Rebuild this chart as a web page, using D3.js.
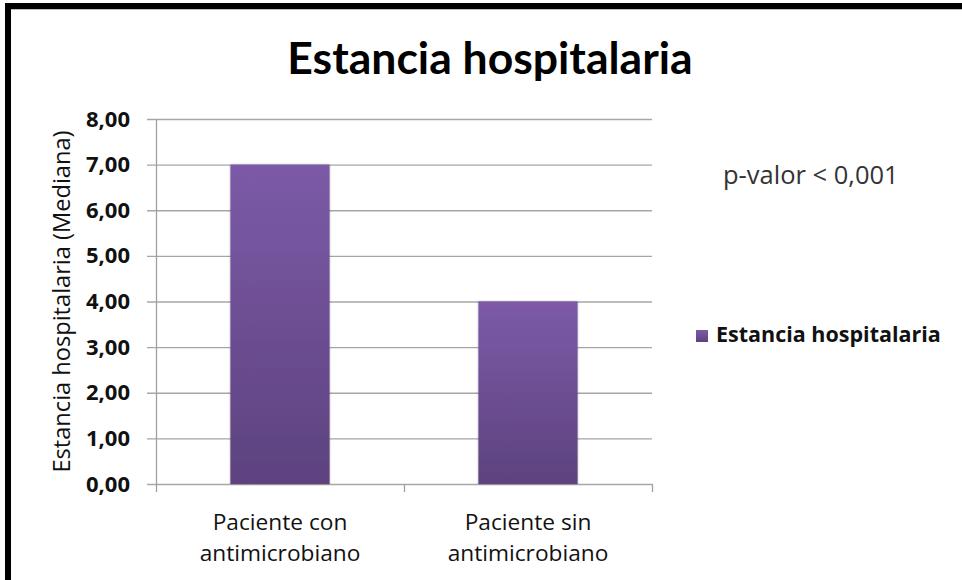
<!DOCTYPE html>
<html>
<head>
<meta charset="utf-8">
<script src="https://cdn.jsdelivr.net/npm/d3@7/dist/d3.min.js"></script>
<style>
  body { margin: 0; background: #fff; }
  svg { display: block; font-family: "Open Sans", Lato, sans-serif; }
</style>
</head>
<body>
<svg id="chart" width="962" height="580"></svg>
<script>
// data
const categories = [["Paciente con", "antimicrobiano"], ["Paciente sin", "antimicrobiano"]];
const values = [7, 4];
const yTicks = [0, 1, 2, 3, 4, 5, 6, 7, 8];
const seriesName = "Estancia hospitalaria";

const svg = d3.select("#chart");

// frame: thick black on top and left
svg.append("rect").attr("x", 5).attr("y", 3).attr("width", 957).attr("height", 6).attr("fill", "#000");
svg.append("rect").attr("x", 5).attr("y", 3).attr("width", 6).attr("height", 577).attr("fill", "#000");
svg.append("line").attr("x1", 11).attr("x2", 962).attr("y1", 9.5).attr("y2", 9.5).attr("stroke", "#bbb");

const x = d3.scaleBand().domain(d3.range(categories.length)).range([156, 652]);
const y = d3.scaleLinear().domain([0, 8]).range([484, 119]);

// gradient for bars
const defs = svg.append("defs");
const grad = defs.append("linearGradient").attr("id", "barGrad")
    .attr("x1", 0).attr("y1", 0).attr("x2", 0).attr("y2", 1);
grad.append("stop").attr("offset", "0%").attr("stop-color", "#7c5aa7");
grad.append("stop").attr("offset", "100%").attr("stop-color", "#5d427f");
const shadow = defs.append("filter").attr("id", "shadow").attr("x", "-10%").attr("y", "-5%").attr("width", "120%").attr("height", "110%");
shadow.append("feDropShadow").attr("dx", 0).attr("dy", 0).attr("stdDeviation", 1.2).attr("flood-color", "#000").attr("flood-opacity", 0.3);

// gridlines
svg.append("g").selectAll("line").data(yTicks).enter().append("line")
    .attr("x1", 147).attr("x2", 652)
    .attr("y1", d => y(d) + 0.5).attr("y2", d => y(d) + 0.5)
    .attr("stroke", "#a6a6a6").attr("stroke-width", 1.3);

// y axis line
svg.append("line").attr("x1", 156.5).attr("x2", 156.5).attr("y1", y(8)).attr("y2", 492)
    .attr("stroke", "#a0a0a0").attr("stroke-width", 1.3);

// x axis ticks
svg.append("g").selectAll("line").data(d3.range(categories.length)).enter().append("line")
    .attr("x1", d => x(d) + x.bandwidth() + 0.5).attr("x2", d => x(d) + x.bandwidth() + 0.5)
    .attr("y1", y(0)).attr("y2", 492)
    .attr("stroke", "#a0a0a0").attr("stroke-width", 1.3);

// bars
const barW = x.bandwidth() * 0.4;
svg.append("g").selectAll("rect").data(values).enter().append("rect")
    .attr("x", (d, i) => x(i) + (x.bandwidth() - barW) / 2)
    .attr("y", d => y(d))
    .attr("width", barW)
    .attr("height", d => y(0) - y(d))
    .attr("fill", "url(#barGrad)")
    .attr("filter", "url(#shadow)");

// y tick labels
svg.append("g").selectAll("text").data(yTicks).enter().append("text")
    .attr("x", 130).attr("y", d => y(d) + 7.5)
    .attr("text-anchor", "end")
    .attr("font-size", 22).attr("font-weight", "bold").attr("fill", "#111")
    .text(d => d3.format(".2f")(d).replace(".", ","));

// x category labels
const xl = svg.append("g").selectAll("text").data(categories).enter().append("text")
    .attr("text-anchor", "middle")
    .attr("font-size", 22.7).attr("fill", "#111");
xl.append("tspan").attr("x", (d, i) => x(i) + x.bandwidth() / 2).attr("y", 530).text(d => d[0]);
xl.append("tspan").attr("x", (d, i) => x(i) + x.bandwidth() / 2).attr("y", 561).text(d => d[1]);

// y axis title
svg.append("text")
    .attr("transform", "translate(70," + (y(4)) + ") rotate(-90)")
    .attr("text-anchor", "middle")
    .attr("font-size", 23.6).attr("fill", "#111")
    .text("Estancia hospitalaria (Mediana)");

// title
svg.append("text")
    .attr("x", 490).attr("y", 74)
    .attr("text-anchor", "middle")
    .attr("font-family", "Lato, sans-serif")
    .attr("font-size", 44.5).attr("font-weight", "bold").attr("fill", "#000")
    .text("Estancia hospitalaria");

// annotation
svg.append("text")
    .attr("x", 723).attr("y", 184)
    .attr("font-size", 25.5).attr("fill", "#333")
    .text("p-valor < 0,001");

// legend
const lg = svg.append("g").attr("transform", "translate(696,330)");
lg.append("rect").attr("width", 12).attr("height", 12).attr("fill", "url(#barGrad)");
lg.append("text").attr("x", 20).attr("y", 12).attr("font-size", 21.5).attr("font-weight", "bold").attr("fill", "#111")
    .text(seriesName);
</script>
</body>
</html>
